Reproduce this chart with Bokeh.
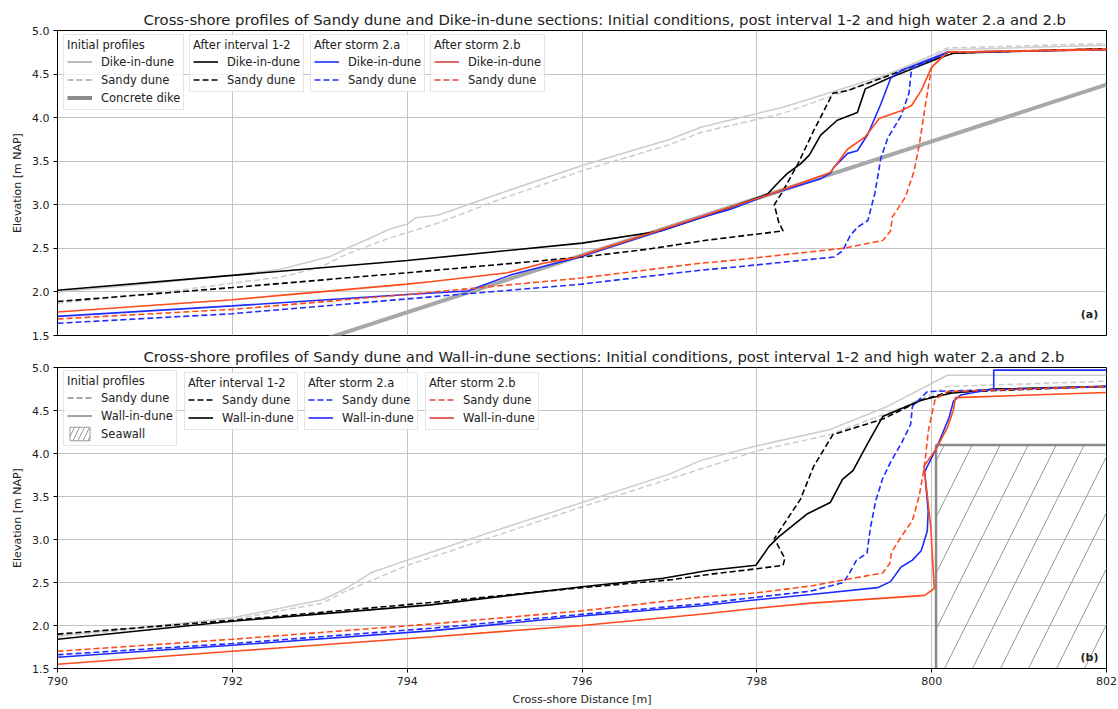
import numpy as np
from bokeh.plotting import figure
from bokeh.models import (Range1d, Legend, LegendItem, Label, FixedTicker,
                          SingleIntervalTicker, NumeralTickFormatter)
from bokeh.layouts import column
from bokeh.embed import file_html
from bokeh.resources import INLINE
from bokeh.core.properties import value

FONT = "DejaVu Sans"

# ---------------------------------------------------------------- data
x_ticks = [790, 792, 794, 796, 798, 800, 802]

# Panel (a): sandy dune vs dike-in-dune
a_init_dike_x = [790, 791, 792, 792.55, 793.13, 793.33, 793.56, 793.8, 794.0, 794.1, 794.35, 795.0, 796.0, 797.0, 797.36, 798.3, 799.42, 800.18, 802]
a_init_dike_y = [2.00, 2.09, 2.19, 2.26, 2.41, 2.51, 2.61, 2.72, 2.78, 2.85, 2.88, 3.11, 3.45, 3.75, 3.89, 4.12, 4.47, 4.78, 4.83]

a_init_sandy_x = [790, 791, 792, 792.55, 793.0, 793.3, 793.8, 794.0, 794.35, 795.0, 796.0, 797.0, 797.36, 798.3, 799.42, 800.18, 802]
a_init_sandy_y = [1.87, 1.97, 2.10, 2.17, 2.28, 2.43, 2.62, 2.68, 2.79, 3.04, 3.39, 3.69, 3.83, 4.05, 4.45, 4.80, 4.85]

concrete_x = [790, 802]
concrete_y = [0.46, 4.38]

a_int_dike_x = [790, 792, 794, 796, 796.9, 797.5, 798.12, 798.24, 798.35, 798.5, 798.6, 798.73, 798.92, 799.15, 799.24, 799.5, 800.1, 800.25, 802]
a_int_dike_y = [2.02, 2.19, 2.36, 2.56, 2.70, 2.90, 3.12, 3.25, 3.36, 3.47, 3.57, 3.80, 3.97, 4.06, 4.33, 4.45, 4.69, 4.74, 4.79]

a_int_sandy_x = [790, 792, 794, 796, 796.75, 797.4, 798.3, 798.25, 798.2, 798.3, 798.47, 798.65, 798.87, 799.04, 799.5, 800.18, 802]
a_int_sandy_y = [1.89, 2.05, 2.22, 2.40, 2.49, 2.59, 2.70, 2.80, 3.00, 3.16, 3.47, 3.85, 4.28, 4.31, 4.48, 4.74, 4.79]

a_2a_dike_x = [790, 792, 794, 794.69, 795.2, 795.9, 796, 797.36, 797.7, 798.12, 798.73, 798.84, 798.88, 799.04, 799.15, 799.27, 799.42, 799.53, 799.65, 800.18, 802]
a_2a_dike_y = [1.72, 1.84, 1.97, 2.01, 2.20, 2.38, 2.41, 2.85, 2.95, 3.11, 3.30, 3.36, 3.43, 3.59, 3.62, 3.81, 4.16, 4.45, 4.54, 4.75, 4.78]

a_2a_sandy_x = [790, 792, 794, 796, 797.36, 797.7, 798.88, 798.98, 799.07, 799.15, 799.27, 799.35, 799.42, 799.5, 799.65, 799.74, 799.77, 800.18, 802]
a_2a_sandy_y = [1.64, 1.75, 1.92, 2.09, 2.25, 2.28, 2.40, 2.47, 2.65, 2.74, 2.82, 3.13, 3.54, 3.77, 4.02, 4.28, 4.56, 4.75, 4.78]

a_2b_dike_x = [790, 792, 792.55, 794, 794.29, 795.15, 795.56, 795.9, 796, 798.12, 798.84, 799.04, 799.24, 799.4, 799.65, 799.77, 799.88, 800.0, 800.18, 802]
a_2b_dike_y = [1.77, 1.91, 1.96, 2.09, 2.12, 2.22, 2.33, 2.39, 2.42, 3.11, 3.37, 3.64, 3.78, 3.99, 4.08, 4.14, 4.31, 4.58, 4.75, 4.78]

a_2b_sandy_x = [790, 792, 794, 796, 797.36, 797.7, 798.98, 799.44, 799.53, 799.55, 799.7, 799.8, 799.86, 799.93, 800.0, 800.18, 802]
a_2b_sandy_y = [1.69, 1.80, 1.97, 2.16, 2.33, 2.36, 2.50, 2.59, 2.70, 2.86, 3.09, 3.39, 3.70, 4.16, 4.58, 4.75, 4.79]

# Panel (b): sandy dune vs wall-in-dune
b_init_wall_x = [790, 791, 792, 793.03, 793.3, 793.6, 794.0, 794.3, 795.0, 796.0, 797.0, 797.36, 798.0, 798.84, 799.5, 800.18, 802]
b_init_wall_y = [1.88, 1.98, 2.09, 2.30, 2.43, 2.62, 2.76, 2.86, 3.10, 3.43, 3.76, 3.92, 4.09, 4.28, 4.55, 4.91, 4.91]

b_init_sandy_x = [790, 792, 793.03, 793.3, 794.0, 794.3, 796.0, 797.36, 798.0, 798.84, 799.7, 800.18, 802]
b_init_sandy_y = [1.87, 2.07, 2.26, 2.40, 2.70, 2.80, 3.38, 3.82, 4.03, 4.22, 4.55, 4.78, 4.84]

b_int_wall_x = [790, 792, 794.27, 796, 796.93, 797.44, 797.99, 798.14, 798.25, 798.58, 798.84, 798.98, 799.1, 799.27, 799.44, 799.88, 800.22, 800.71, 802]
b_int_wall_y = [1.84, 2.05, 2.24, 2.45, 2.55, 2.64, 2.70, 2.92, 3.03, 3.30, 3.43, 3.70, 3.80, 4.12, 4.43, 4.62, 4.70, 4.75, 4.78]

b_int_sandy_x = [790, 792, 794.3, 796, 797, 797.5, 798.0, 798.3, 798.32, 798.2, 798.35, 798.5, 798.65, 798.87, 799.44, 799.88, 800.18, 802]
b_int_sandy_y = [1.90, 2.06, 2.27, 2.44, 2.53, 2.60, 2.66, 2.70, 2.78, 3.01, 3.24, 3.47, 3.85, 4.22, 4.40, 4.62, 4.71, 4.78]

b_2a_wall_x = [790, 792, 794.3, 796, 797.36, 798, 798.62, 799.38, 799.53, 799.65, 799.78, 799.88, 799.95, 799.96, 799.92, 800.05, 800.2, 800.25, 800.33, 800.71, 800.71, 802]
b_2a_wall_y = [1.63, 1.77, 1.94, 2.11, 2.23, 2.30, 2.36, 2.44, 2.51, 2.68, 2.76, 2.87, 3.10, 3.33, 3.79, 4.05, 4.42, 4.61, 4.68, 4.75, 4.97, 4.97]

b_2a_sandy_x = [790, 792, 794.3, 796, 797.36, 798, 798.62, 798.99, 799.06, 799.14, 799.26, 799.3, 799.36, 799.44, 799.53, 799.66, 799.76, 799.78, 799.95, 802]
b_2a_sandy_y = [1.66, 1.79, 1.97, 2.13, 2.25, 2.33, 2.40, 2.50, 2.61, 2.76, 2.84, 3.14, 3.45, 3.71, 3.90, 4.13, 4.34, 4.55, 4.72, 4.78]

b_2b_wall_x = [790, 792, 794.3, 796, 797.36, 798, 798.62, 799.92, 800.03, 799.99, 799.95, 799.91, 800.05, 800.18, 800.25, 800.27, 802]
b_2b_wall_y = [1.55, 1.70, 1.87, 2.00, 2.13, 2.20, 2.26, 2.35, 2.43, 3.14, 3.52, 3.85, 4.05, 4.30, 4.51, 4.65, 4.71]

b_2b_sandy_x = [790, 792, 794.3, 796, 797.36, 798, 798.62, 798.99, 799.44, 799.52, 799.54, 799.65, 799.78, 799.86, 799.92, 799.96, 799.99, 800.04, 800.18, 802]
b_2b_sandy_y = [1.70, 1.84, 2.02, 2.17, 2.33, 2.38, 2.46, 2.53, 2.61, 2.72, 2.85, 3.03, 3.22, 3.52, 3.87, 4.25, 4.40, 4.63, 4.72, 4.78]

seawall_left, seawall_right = 800.05, 802.0
seawall_bottom, seawall_top = 1.5, 4.1

title_a = ("Cross-shore profiles of Sandy dune and Dike-in-dune sections: "
           "Initial conditions, post interval 1-2 and high water 2.a and 2.b")
title_b = ("Cross-shore profiles of Sandy dune and Wall-in-dune sections: "
           "Initial conditions, post interval 1-2 and high water 2.a and 2.b")

# ---------------------------------------------------------------- styles
LIGHT = "#cccccc"
INIT_KEY = "#a9a9a9"
BLUE = "#1f2bff"
ORANGE = "#ff4a1c"
RED_KEY = "#d64541"
HATCH = "#9a9a9a"
WALL_EDGE = "#8a8a8a"
DASH = "6 3"
LW = 1.6

x_range = Range1d(790, 802)


def make_fig(title, height, top, bottom):
    p = figure(width=1118, height=height, x_range=x_range, y_range=Range1d(1.5, 5.0),
               output_backend="svg", toolbar_location=None,
               min_border_left=57, min_border_right=12,
               min_border_top=top, min_border_bottom=bottom)
    p.title.text = title
    p.title.align = "left"
    p.title.offset = 86
    p.title.standoff = 5
    p.title.text_font = FONT
    p.title.text_font_size = "14.8px"
    p.title.text_font_style = "normal"
    p.title.text_color = "#222222"
    p.outline_line_color = "black"
    p.outline_line_alpha = 1
    p.background_fill_color = "white"
    p.border_fill_color = "white"
    p.grid.grid_line_color = "#c4c4c4"
    p.grid.grid_line_width = 1
    p.xaxis.ticker = FixedTicker(ticks=x_ticks)
    p.yaxis.ticker = SingleIntervalTicker(interval=0.5)
    p.yaxis.formatter = NumeralTickFormatter(format="0.0")
    for ax in (p.xaxis, p.yaxis):
        ax.axis_line_color = "black"
        ax.major_tick_line_color = "black"
        ax.major_tick_out = 4
        ax.major_tick_in = 0
        ax.minor_tick_line_color = None
        ax.major_label_text_font = FONT
        ax.major_label_text_font_size = "11px"
        ax.major_label_text_color = "#222222"
        ax.major_label_standoff = 4
        ax.axis_label_text_font = FONT
        ax.axis_label_text_font_size = "11px"
        ax.axis_label_text_font_style = "normal"
        ax.axis_label_text_color = "#222222"
        ax.axis_label_standoff = 5
    p.yaxis.axis_label = "Elevation [m NAP]"
    return p


def curve(p, x, y, color, dash="solid", width=LW):
    return p.line(x, y, line_color=color, line_width=width, line_dash=dash)


def key_line(p, color, dash="solid", width=LW):
    return p.line([np.nan], [np.nan], line_color=color, line_width=width, line_dash=dash)


def add_legend(p, title, entries, loc):
    items = [LegendItem(label=value(lbl), renderers=[r]) for lbl, r in entries]
    lg = Legend(items=items, title=title, location=loc, orientation="vertical",
                title_text_font=FONT, title_text_font_size="11.5px",
                title_text_font_style="normal", title_text_color="#222222",
                label_text_font=FONT, label_text_font_size="11.5px",
                label_text_color="#222222",
                glyph_width=25, glyph_height=17, label_height=17,
                label_standoff=9, spacing=1, padding=3, margin=0,
                title_standoff=1,
                border_line_color="#cccccc", border_line_width=1,
                background_fill_color="white", background_fill_alpha=0.8)
    p.add_layout(lg)


def panel_label(p, text, y):
    p.add_layout(Label(x=1032, y=y, x_units="screen", y_units="screen", text=text,
                       text_font=FONT, text_font_size="11px",
                       text_font_style="bold", text_align="center",
                       text_baseline="middle", text_color="#222222"))


# ---------------------------------------------------------------- panel (a)
pa = make_fig(title_a, 343, 30, 8)
pa.xaxis.visible = False

curve(pa, a_init_dike_x, a_init_dike_y, LIGHT, width=1.5)
curve(pa, a_init_sandy_x, a_init_sandy_y, LIGHT, DASH, width=1.5)
curve(pa, concrete_x, concrete_y, "#a8a8a8", width=4)
curve(pa, a_int_dike_x, a_int_dike_y, "black")
curve(pa, a_int_sandy_x, a_int_sandy_y, "black", DASH)
curve(pa, a_2a_dike_x, a_2a_dike_y, BLUE)
curve(pa, a_2a_sandy_x, a_2a_sandy_y, BLUE, DASH)
curve(pa, a_2b_dike_x, a_2b_dike_y, ORANGE)
curve(pa, a_2b_sandy_x, a_2b_sandy_y, ORANGE, DASH)

add_legend(pa, "Initial profiles", [
    ("Dike-in-dune", key_line(pa, INIT_KEY)),
    ("Sandy dune", key_line(pa, INIT_KEY, DASH)),
    ("Concrete dike", key_line(pa, "#8c8c8c", width=4)),
], (6, 225))
add_legend(pa, "After interval 1-2", [
    ("Dike-in-dune", key_line(pa, "black")),
    ("Sandy dune", key_line(pa, "black", DASH)),
], (132, 243))
add_legend(pa, "After storm 2.a", [
    ("Dike-in-dune", key_line(pa, BLUE)),
    ("Sandy dune", key_line(pa, BLUE, DASH)),
], (253, 243))
add_legend(pa, "After storm 2.b", [
    ("Dike-in-dune", key_line(pa, RED_KEY)),
    ("Sandy dune", key_line(pa, RED_KEY, DASH)),
], (373, 243))
panel_label(pa, "(a)", 21)

# ---------------------------------------------------------------- panel (b)
pb = make_fig(title_b, 366, 22, 41)
pb.xaxis.axis_label = "Cross-shore Distance [m]"
pb.xaxis.formatter = NumeralTickFormatter(format="0")

# seawall: hatched block with its landward face and crest outlined
pb.quad(left=[seawall_left], right=[seawall_right], bottom=[seawall_bottom], top=[seawall_top],
        fill_color=None, line_color=None,
        hatch_pattern="/", hatch_color=HATCH, hatch_scale=56, hatch_weight=1)
pb.line([seawall_left, seawall_left, seawall_right],
        [seawall_bottom, seawall_top, seawall_top],
        line_color=WALL_EDGE, line_width=2.5)

curve(pb, b_init_wall_x, b_init_wall_y, LIGHT, width=1.5)
curve(pb, b_init_sandy_x, b_init_sandy_y, LIGHT, DASH, width=1.5)
curve(pb, b_int_wall_x, b_int_wall_y, "black")
curve(pb, b_int_sandy_x, b_int_sandy_y, "black", DASH)
curve(pb, b_2a_wall_x, b_2a_wall_y, BLUE)
curve(pb, b_2a_sandy_x, b_2a_sandy_y, BLUE, DASH)
curve(pb, b_2b_wall_x, b_2b_wall_y, ORANGE)
curve(pb, b_2b_sandy_x, b_2b_sandy_y, ORANGE, DASH)

seawall_key = pb.quad(left=[np.nan], right=[np.nan], bottom=[np.nan], top=[np.nan],
                      fill_color=None, line_color=HATCH, line_width=1,
                      hatch_pattern="/", hatch_color=HATCH, hatch_scale=10,
                      hatch_weight=1)

add_legend(pb, "Initial profiles", [
    ("Sandy dune", key_line(pb, "#8a8a8a", DASH)),
    ("Wall-in-dune", key_line(pb, "#8a8a8a")),
    ("Seawall", seawall_key),
], (6, 222))
add_legend(pb, "After interval 1-2", [
    ("Sandy dune", key_line(pb, "black", DASH)),
    ("Wall-in-dune", key_line(pb, "black")),
], (127, 238))
add_legend(pb, "After storm 2.a", [
    ("Sandy dune", key_line(pb, BLUE, DASH)),
    ("Wall-in-dune", key_line(pb, BLUE)),
], (247, 238))
add_legend(pb, "After storm 2.b", [
    ("Sandy dune", key_line(pb, RED_KEY, DASH)),
    ("Wall-in-dune", key_line(pb, RED_KEY)),
], (368, 238))
panel_label(pb, "(b)", 11)

layout = column(pa, pb, spacing=0)
open("out.html", "w").write(file_html(layout, INLINE))
